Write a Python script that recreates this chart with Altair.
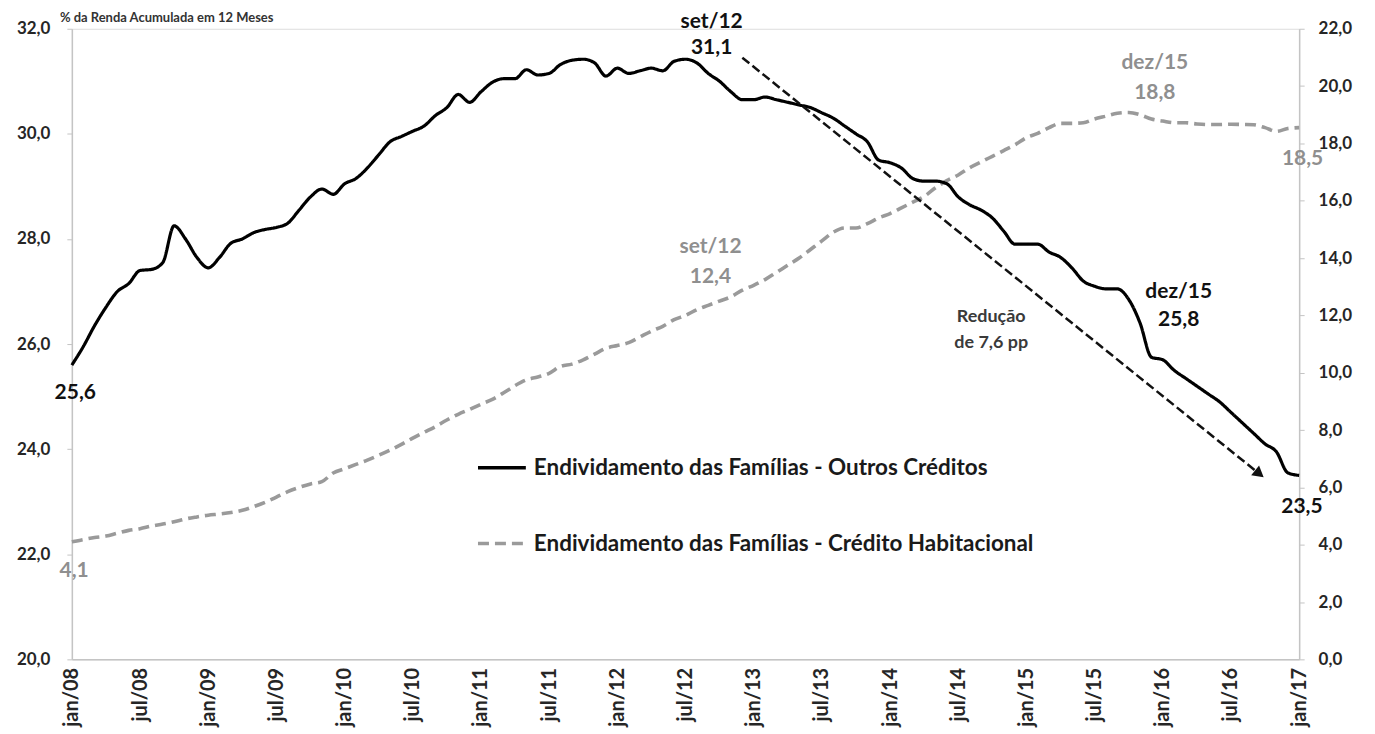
import json
import altair as alt
import pandas as pd

FONT = "Lato"

# ---------------- data ----------------
tick_labels = ["jan/08", "jul/08", "jan/09", "jul/09", "jan/10", "jul/10", "jan/11", "jul/11",
               "jan/12", "jul/12", "jan/13", "jul/13", "jan/14", "jul/14", "jan/15", "jul/15",
               "jan/16", "jul/16", "jan/17"]

S1 = "Endividamento das Famílias - Outros Créditos"
S2 = "Endividamento das Famílias - Crédito Habitacional"
TITLE = "% da Renda Acumulada em 12 Meses"

# monthly, jan/08 .. jan/17 (% of 12-month accumulated income)
outros = [25.6, 25.95, 26.35, 26.7, 27.0, 27.15, 27.4, 27.42, 27.55, 28.25,
          28.0, 27.65, 27.45, 27.65, 27.92, 28.0, 28.12, 28.18, 28.22, 28.3,
          28.55, 28.8, 28.95, 28.85, 29.05, 29.15, 29.35, 29.6, 29.85, 29.95,
          30.05, 30.15, 30.35, 30.5, 30.75, 30.6, 30.8, 30.98, 31.05, 31.05,
          31.22, 31.12, 31.15, 31.32, 31.4, 31.42, 31.35, 31.1, 31.25, 31.15,
          31.2, 31.25, 31.2, 31.38, 31.42, 31.35, 31.15, 31.0, 30.8, 30.65,
          30.65, 30.7, 30.65, 30.6, 30.55, 30.5, 30.4, 30.3, 30.15, 30.0,
          29.85, 29.5, 29.45, 29.35, 29.15, 29.1, 29.1, 29.05, 28.8, 28.65,
          28.55, 28.4, 28.15, 27.9, 27.9, 27.9, 27.75, 27.65, 27.45, 27.2,
          27.1, 27.05, 27.05, 26.85, 26.4, 25.75, 25.7, 25.5, 25.35, 25.2,
          25.05, 24.9, 24.7, 24.5, 24.3, 24.1, 23.95, 23.55, 23.5]

habitacional = [4.1, 4.18, 4.25, 4.3, 4.4, 4.5, 4.56, 4.65, 4.72, 4.8,
                4.9, 4.97, 5.03, 5.07, 5.12, 5.2, 5.33, 5.48, 5.66, 5.85,
                6.0, 6.12, 6.2, 6.5, 6.65, 6.8, 6.95, 7.12, 7.3, 7.5,
                7.72, 7.92, 8.12, 8.35, 8.55, 8.72, 8.9, 9.07, 9.3, 9.55,
                9.75, 9.85, 9.98, 10.22, 10.3, 10.45, 10.65, 10.85, 10.95, 11.05,
                11.25, 11.45, 11.62, 11.85, 12.0, 12.2, 12.35, 12.5, 12.65, 12.88,
                13.05, 13.25, 13.5, 13.75, 14.0, 14.3, 14.6, 14.9, 15.05, 15.05,
                15.2, 15.4, 15.55, 15.75, 15.95, 16.15, 16.45, 16.7, 16.9, 17.15,
                17.35, 17.55, 17.75, 17.95, 18.2, 18.35, 18.55, 18.7, 18.7, 18.72,
                18.85, 18.95, 19.05, 19.08, 19.0, 18.85, 18.78, 18.72, 18.72, 18.68,
                18.66, 18.66, 18.67, 18.66, 18.65, 18.55, 18.42, 18.52, 18.55]

months = list(range(len(outros)))  # 0 = jan/08

# annotations (month index, axis value, text)
ann_black_t = [56.3, 56.3, 0.3, 97.4, 97.4, 108.25]
ann_black_v = [32.13, 31.64, 25.07, 26.99, 26.46, 22.9]
ann_black_txt = ["set/12", "31,1", "25,6", "dez/15", "25,8", "23,5"]

ann_note_t = [80.9, 80.9]
ann_note_v = [26.51, 26.02]
ann_note_txt = ["Redução", "de 7,6 pp"]

ann_gray_t = [56.2, 56.2, 95.3, 95.3, 108.3, 0.2]
ann_gray_v = [14.38, 13.33, 20.82, 19.77, 17.47, 3.07]
ann_gray_txt = ["set/12", "12,4", "dez/15", "18,8", "18,5", "4,1"]

arrow_t = [59.0, 104.5]
arrow_v = [31.45, 23.53]

# ---------------- frames ----------------
df_o = pd.DataFrame({"t": months, "v": outros, "serie": S1})
df_h = pd.DataFrame({"t": months, "v": habitacional, "serie": S2})
df_ab = pd.DataFrame({"t": ann_black_t, "v": ann_black_v, "txt": ann_black_txt})
df_an = pd.DataFrame({"t": ann_note_t, "v": ann_note_v, "txt": ann_note_txt})
df_ag = pd.DataFrame({"t": ann_gray_t, "v": ann_gray_v, "txt": ann_gray_txt})
df_arrow = pd.DataFrame({"t": [arrow_t[0]], "v": [arrow_v[0]], "t2": [arrow_t[1]], "v2": [arrow_v[1]]})
df_head = pd.DataFrame({"t": [arrow_t[1]], "v": [arrow_v[1]]})
df_title = pd.DataFrame({"txt": [TITLE]})

AXIS_COLOR = "#c4c4c4"
LABEL_COLOR = "#262626"
GRAY = "#9a9a9a"
GRAY_TXT = "#8f8f8f"

fmt = "replace(format(datum.value, '.1f'), '.', ',')"

x_enc = alt.X(
    "t:Q",
    scale=alt.Scale(domain=[0, 108], nice=False, zero=False),
    axis=alt.Axis(
        values=list(range(0, 109, 6)),
        labelExpr=json.dumps(tick_labels) + "[round(datum.value / 6)]",
        labelAngle=270,
        title=None,
        grid=False,
        ticks=False,
        labelPadding=8,
        labelFontSize=20,
        labelFont=FONT,
        labelFontWeight="bold",
        labelColor=LABEL_COLOR,
        domainColor=AXIS_COLOR,
        domainWidth=1.5,
    ),
)

y_left = alt.Y(
    "v:Q",
    scale=alt.Scale(domain=[20, 32], nice=False, zero=False),
    axis=alt.Axis(
        values=[20, 22, 24, 26, 28, 30, 32],
        labelExpr=fmt,
        orient="left",
        title=None,
        grid=False,
        tickSize=5,
        tickColor=AXIS_COLOR,
        domainColor=AXIS_COLOR,
        domainWidth=1.5,
        labelPadding=17,
        labelFontSize=17,
        labelFont=FONT,
        labelFontWeight="bold",
        labelColor=LABEL_COLOR,
    ),
)

y_right = alt.Y(
    "v:Q",
    scale=alt.Scale(domain=[0, 22], nice=False, zero=False),
    axis=alt.Axis(
        values=list(range(0, 23, 2)),
        labelExpr=fmt,
        orient="right",
        title=None,
        grid=False,
        tickSize=5,
        tickColor=AXIS_COLOR,
        domainColor=AXIS_COLOR,
        domainWidth=1.5,
        labelPadding=14,
        labelFontSize=17,
        labelFont=FONT,
        labelFontWeight="bold",
        labelColor=LABEL_COLOR,
    ),
)

legend = alt.Legend(
    title=None,
    orient="none",
    legendX=405,
    legendY=414,
    direction="vertical",
    symbolType="stroke",
    symbolSize=2300,
    symbolStrokeWidth=3.5,
    labelFontSize=22.5,
    labelFont=FONT,
    labelFontWeight="bold",
    labelColor="#1a1a1a",
    rowPadding=38,
    labelOffset=6,
    labelLimit=800,
)

color_enc = alt.Color("serie:N", scale=alt.Scale(domain=[S1, S2], range=["#000000", GRAY]), legend=legend)
dash_enc = alt.StrokeDash("serie:N", scale=alt.Scale(domain=[S1, S2], range=[[1, 0], [11, 6]]), legend=legend)

line_o = alt.Chart(df_o).mark_line(strokeWidth=3.2, interpolate="monotone").encode(
    x=x_enc, y=y_left, color=color_enc, strokeDash=dash_enc)
line_h = alt.Chart(df_h).mark_line(strokeWidth=3.6, interpolate="monotone").encode(
    x=x_enc, y=y_right, color=color_enc, strokeDash=dash_enc)

arrow = alt.Chart(df_arrow).mark_rule(color="#111111", strokeWidth=2.5, strokeDash=[9, 4]).encode(
    x="t:Q", y="v:Q", x2="t2:Q", y2="v2:Q")
head = alt.Chart(df_head).mark_point(shape="triangle-right", angle=38.8, filled=True, color="#111111",
                                      size=160, opacity=1).encode(x="t:Q", y="v:Q")

txt_black = alt.Chart(df_ab).mark_text(font=FONT, fontSize=21, fontWeight="bold", color="#111111",
                                        align="center", baseline="middle").encode(x="t:Q", y="v:Q", text="txt:N")
txt_note = alt.Chart(df_an).mark_text(font=FONT, fontSize=18, fontWeight="bold", color="#3a3a3a",
                                       align="center", baseline="middle").encode(x="t:Q", y="v:Q", text="txt:N")
txt_gray = alt.Chart(df_ag).mark_text(font=FONT, fontSize=21, fontWeight="bold", color=GRAY_TXT,
                                       align="center", baseline="middle").encode(x="t:Q", y="v:Q", text="txt:N")
txt_title = alt.Chart(df_title).mark_text(font=FONT, fontSize=13, fontWeight="bold", color="#333333",
                                           align="left", baseline="alphabetic").encode(
    x=alt.value(-12), y=alt.value(-7), text="txt:N")

left = alt.layer(line_o, arrow, head, txt_black, txt_note, txt_title)
right = alt.layer(line_h, txt_gray)

chart = (
    alt.layer(right, left)
    .resolve_scale(y="independent")
    .properties(
        width=1230,
        height=632,
        autosize=alt.AutoSizeParams(type="none"),
        padding={"left": 64, "top": 20, "right": 68, "bottom": 70},
    )
    .configure_view(stroke=None)
    .configure(background="white")
)

chart.save("out.html", embed_options={"renderer": "svg", "actions": False})
